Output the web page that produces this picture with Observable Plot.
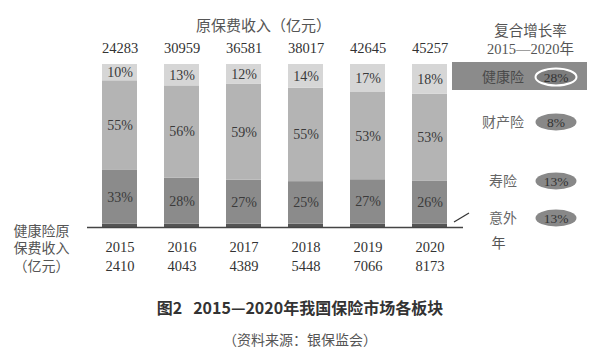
<!DOCTYPE html>
<html>
<head>
<meta charset="utf-8">
<script src="https://cdn.jsdelivr.net/npm/d3@7"></script>
<script src="https://cdn.jsdelivr.net/npm/@observablehq/plot@0.6"></script>
<style>
  html, body { margin: 0; padding: 0; background: #fff; width: 600px; height: 358px; overflow: hidden; }
  #cap { text-align: center; font-family: "Noto Sans CJK SC", "Noto Sans", sans-serif; }
  #cap .t { font-weight: 700; font-size: 16px; color: #333; line-height: 20px; padding-top: 7px; }
  #cap .s { font-size: 14px; color: #555; line-height: 20px; margin-top: 12px; }
</style>
</head>
<body>
<div id="chart"></div>
<div id="cap">
  <div class="t">图2&nbsp;&nbsp;&nbsp;2015—2020年我国保险市场各板块</div>
  <div class="s">（资料来源：银保监会）</div>
</div>
<script>
// ---- data ----
const years = ["2015", "2016", "2017", "2018", "2019", "2020"];
const totals = [24283, 30959, 36581, 38017, 42645, 45257];      // 原保费收入（亿元）
const healthPremium = [2410, 4043, 4389, 5448, 7066, 8173];     // 健康险原保费收入（亿元）
const series = ["意外", "寿险", "财产险", "健康险"];            // bottom -> top
const accidentShare = [2, 2, 2, 2, 2, 2];                       // estimated thin strip
const lifeShare = [33, 28, 27, 25, 27, 26];
const propertyShare = [55, 56, 59, 55, 53, 53];
const healthShare = [10, 13, 12, 14, 17, 18];
const cagrNames = ["健康险", "财产险", "寿险", "意外"];
const cagrValues = [28, 8, 13, 13];

const shares = [accidentShare, lifeShare, propertyShare, healthShare];
const rows = [];
series.forEach((s, si) => years.forEach((y, yi) => rows.push({year: y, series: s, value: shares[si][yi]})));
const yearRows = years.map((y, i) => ({year: y, total: totals[i], health: healthPremium[i]}));

const serif = "'Liberation Serif', 'DejaVu Serif', 'Noto Sans CJK SC', serif";
const textGray = "#555";

const plot = Plot.plot({
  width: 600,
  height: 290,
  marginTop: 64,
  marginBottom: 63,
  marginLeft: 87,
  marginRight: 137,
  style: {fontFamily: serif, fontSize: "14px", background: "white"},
  x: {domain: years, paddingInner: 0.43, paddingOuter: 0.2, axis: null},
  y: {domain: [0, 1], axis: null},
  color: {domain: series, range: ["#545454", "#8b8b8b", "#b4b4b4", "#d6d6d6"]},
  marks: [
    Plot.barY(rows, Plot.stackY({x: "year", y: "value", z: "series", fill: "series", offset: "normalize", order: series})),
    Plot.text(rows, Plot.stackY({
      x: "year", y: "value", z: "series", offset: "normalize", order: series,
      text: d => d.series === "意外" ? "" : d.value + "%",
      fill: "#3a3a3a", fontSize: 14
    })),
    Plot.ruleY([0], {stroke: "#444", strokeWidth: 1.5}),
    Plot.text(yearRows, {x: "year", y: () => 1, text: d => String(d.total), dy: -16, fill: "#333", fontSize: 14.5}),
    Plot.text(yearRows, {x: "year", y: () => 0, text: "year", dy: 20, fill: "#333", fontSize: 14.5}),
    Plot.text(yearRows, {x: "year", y: () => 0, text: d => String(d.health), dy: 39, fill: "#333", fontSize: 14.5}),
    Plot.text(["年"], {frameAnchor: "bottom-right", dx: 42, dy: 20, fill: textGray, fontSize: 14}),
    Plot.text(["健康险原\n保费收入\n（亿元）"], {frameAnchor: "bottom-left", dx: -46, dy: 20, textAnchor: "middle", lineAnchor: "middle", lineHeight: 1.25, fill: textGray, fontSize: 14}),
    Plot.text(["原保费收入（亿元）"], {frameAnchor: "top", dx: -12, dy: -44, fill: textGray, fontSize: 15}),
    Plot.text(["复合增长率\n2015—2020年"], {frameAnchor: "top-right", dx: 67, dy: -25, textAnchor: "middle", lineAnchor: "middle", lineHeight: 1.25, fill: textGray, fontSize: 14.5})
  ]
});
document.getElementById("chart").appendChild(plot);

// ---- CAGR legend (layout in pixels) ----
const legendLayout = {
  box: {x: 452, y: 62, w: 135, h: 28},
  rowsY: [77, 122, 181, 218],
  labelX: 503,
  ellX: 556, rx: 20.5, ry: 8.5
};
const svg = d3.select(plot);
const g = svg.append("g");
g.append("rect")
  .attr("x", legendLayout.box.x).attr("y", legendLayout.box.y)
  .attr("width", legendLayout.box.w).attr("height", legendLayout.box.h)
  .attr("fill", "#8b8b8b");
cagrNames.forEach((name, i) => {
  const y = legendLayout.rowsY[i];
  g.append("text")
    .attr("x", legendLayout.labelX).attr("y", y).attr("dy", "0.35em")
    .attr("text-anchor", "middle")
    .attr("font-family", "'Noto Sans CJK SC', sans-serif")
    .attr("font-size", 14)
    .attr("fill", i === 0 ? "#4a4a4a" : "#666")
    .text(name);
  g.append("ellipse")
    .attr("cx", legendLayout.ellX).attr("cy", y)
    .attr("rx", legendLayout.rx).attr("ry", legendLayout.ry)
    .attr("fill", i === 0 ? "#7d7d7d" : "#888")
    .attr("stroke", i === 0 ? "#fff" : "none")
    .attr("stroke-width", 2);
  g.append("text")
    .attr("x", legendLayout.ellX).attr("y", y).attr("dy", "0.35em")
    .attr("text-anchor", "middle")
    .attr("font-family", serif)
    .attr("font-size", 13.5)
    .attr("fill", "#333")
    .text(cagrValues[i] + "%");
});
// leader line from the 意外 strip to its label
const xs = plot.scale("x");
g.append("line")
  .attr("x1", xs.apply("2020") + xs.bandwidth + 7).attr("y1", 222)
  .attr("x2", xs.apply("2020") + xs.bandwidth + 22).attr("y2", 213)
  .attr("stroke", "#333").attr("stroke-width", 1.2);
</script>
</body>
</html>
